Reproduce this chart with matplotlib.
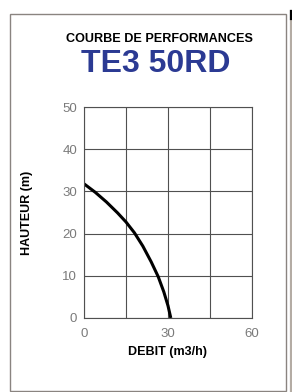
import matplotlib
matplotlib.use("Agg")
import matplotlib.pyplot as plt
from matplotlib.patches import Rectangle
from matplotlib.lines import Line2D

title_top = "COURBE DE PERFORMANCES"
title_model = "TE3 50RD"
x_label = "DEBIT (m3/h)"
y_label = "HAUTEUR (m)"
debit = [0, 4, 8, 12, 15, 18, 21, 24, 26.5, 28.5, 30, 31]
hauteur = [31.8, 29.8, 27.5, 24.9, 22.75, 20.2, 17.05, 13.3, 9.8, 6.2, 2.9, 0]
x_ticks = [0, 30, 60]
x_grid = [0, 15, 30, 45, 60]
y_ticks = [0, 10, 20, 30, 40, 50]

W, H = 292, 392
fig = plt.figure(figsize=(W / 100, H / 100), dpi=100)
fig.patch.set_facecolor("white")
fam = ["Liberation Sans", "DejaVu Sans"]

# outer frame
fig.patches.append(Rectangle((9.5 / W, 1 - 391 / H), (286 - 9.5) / W, (391 - 14) / H,
                             transform=fig.transFigure, fill=False,
                             edgecolor="#8a8480", linewidth=1.0))
fig.lines.append(Line2D([290.5 / W, 290.5 / W], [1 - 392 / H, 1 - 11 / H],
                        transform=fig.transFigure, color="#b4aca4", linewidth=1.6))
fig.lines.append(Line2D([290.5 / W, 290.5 / W], [1 - 19 / H, 1 - 11 / H],
                        transform=fig.transFigure, color="black", linewidth=1.6))

ax = fig.add_axes([84 / W, 1 - 318 / H, 168 / W, 211 / H])
ax.plot(debit, hauteur, color="black", linewidth=2.2, solid_capstyle="butt",
        solid_joinstyle="round")
ax.set_xlim(0, 60)
ax.set_ylim(0, 50)
ax.set_xticks(x_grid)
ax.set_xticklabels([str(v) if v in x_ticks else "" for v in x_grid])
ax.set_yticks(y_ticks)
ax.grid(True, color="#505050", linewidth=0.8)
for s in ax.spines.values():
    s.set_color("#505050")
    s.set_linewidth(0.8)
ax.tick_params(length=0, colors="#7a7a7a", labelsize=9.5)
ax.tick_params(axis="x", pad=7.5)
ax.tick_params(axis="y", pad=5)
for lab in ax.get_xticklabels() + ax.get_yticklabels():
    lab.set_family(fam)
ax.set_xlabel(x_label, fontsize=9, fontweight="bold", family=fam, labelpad=4)
ax.set_ylabel(y_label, fontsize=9, fontweight="bold", family=fam, labelpad=21)

fig.text(159 / W, 1 - 39 / H, title_top, ha="center", va="center",
         fontsize=9.1, fontweight="bold", family=fam, color="black")
fig.text(155.5 / W, 1 - 64 / H, title_model, ha="center", va="center",
         fontsize=23, fontweight="bold", family=fam, color="#2b3a93")

fig.savefig("out.png", dpi=100)
